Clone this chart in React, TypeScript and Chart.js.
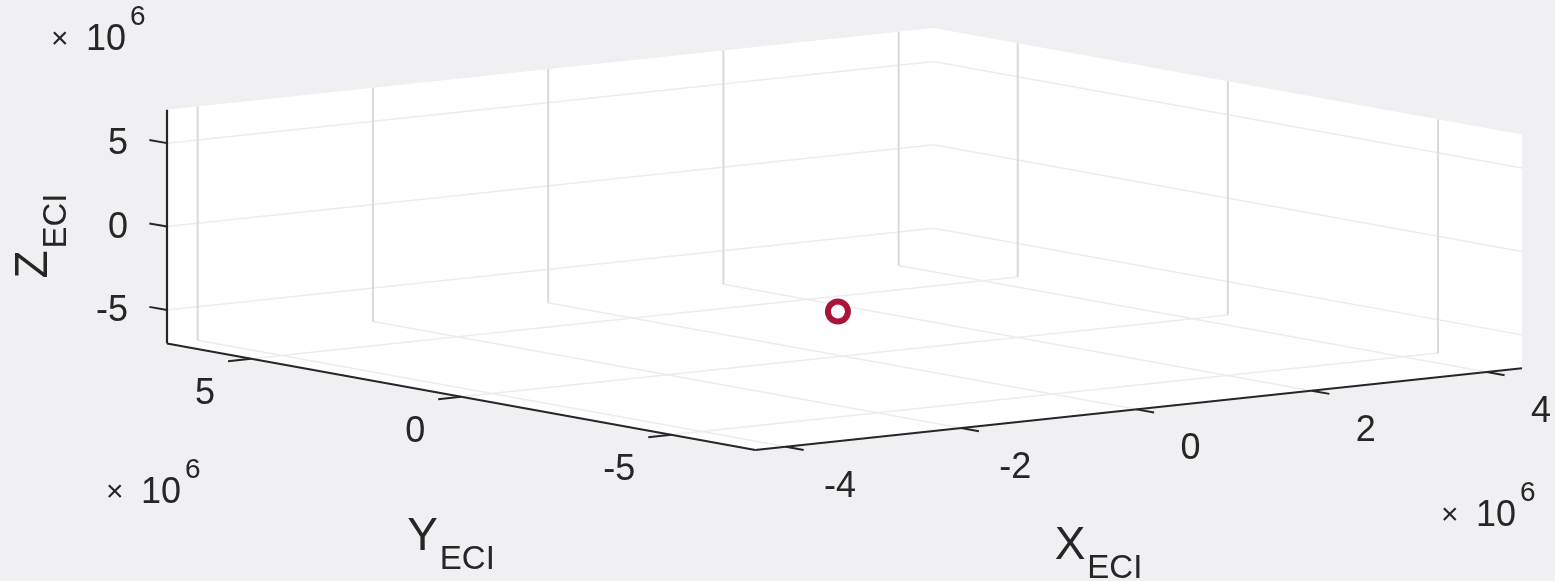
import React, { useEffect, useRef } from "react";
import { Chart, registerables } from "chart.js";

Chart.register(...registerables);

// ---------------- data ----------------
const X_LIMITS = [-4.35e6, 4.4e6];
const Y_LIMITS = [-7e6, 7e6];
const Z_LIMITS = [-7e6, 7e6];
const X_TICKS = [-4e6, -2e6, 0, 2e6, 4e6];
const Y_TICKS = [-5e6, 0, 5e6];
const Z_TICKS = [-5e6, 0, 5e6];
const TICK_EXPONENT = 6;
const SAT_X = [-0.05e6];
const SAT_Y = [0];
const SAT_Z = [-4.3e6];
const AXIS_NAMES = ["X", "Y", "Z"];
const AXIS_SUBSCRIPT = "ECI";

// ---------------- view / style ----------------
const VIEW_AZ = -37.5;
const VIEW_EL = 8;
const BOX_ASPECT = [1, 1, 0.2446];
const TICK_LEN = 0.03;
const FONT = '"Liberation Sans", Arial, Helvetica, sans-serif';
const TEXT_COLOR = "#262626";
const AXIS_COLOR = "#262626";
const GRID_COLOR_VERTICAL = "#d9d9d9";
const GRID_COLOR_FLAT = "#ececec";
const BG_COLOR = "#f0eff1";
const MARKER_COLOR = "#a8143a";

const W = 1555;
const H = 581;

const AZ = (VIEW_AZ * Math.PI) / 180;
const EL = (VIEW_EL * Math.PI) / 180;

function norm(v: number, lim: number[], a: number) {
  return ((v - lim[0]) / (lim[1] - lim[0]) - 0.5) * a;
}
function projN(nx: number, ny: number, nz: number) {
  const c = Math.cos(AZ), s = Math.sin(AZ), ce = Math.cos(EL), se = Math.sin(EL);
  return { x: nx * c + ny * s, y: -nx * s * se + ny * c * se + nz * ce };
}
function toN(x: number, y: number, z: number) {
  return [norm(x, X_LIMITS, BOX_ASPECT[0]), norm(y, Y_LIMITS, BOX_ASPECT[1]), norm(z, Z_LIMITS, BOX_ASPECT[2])];
}
function project(x: number, y: number, z: number) {
  const n = toN(x, y, z);
  return projN(n[0], n[1], n[2]);
}
function projectOffset(x: number, y: number, z: number, d: number[]) {
  const n = toN(x, y, z);
  return projN(n[0] + d[0], n[1] + d[1], n[2] + d[2]);
}

const [XMIN, XMAX] = X_LIMITS;
const [YMIN, YMAX] = Y_LIMITS;
const [ZMIN, ZMAX] = Z_LIMITS;

function lineDs(points: { x: number; y: number }[], color: string, width: number, order: number, extra: any = {}) {
  return {
    data: points,
    borderColor: color,
    borderWidth: width,
    pointRadius: 0,
    pointHoverRadius: 0,
    tension: 0,
    fill: false,
    clip: false as any,
    order,
    ...extra,
  };
}

function buildDatasets() {
  const ds: any[] = [];
  // back walls + floor (white panes)
  const walls = [
    project(XMIN, YMAX, ZMAX),
    project(XMAX, YMAX, ZMAX),
    project(XMAX, YMIN, ZMAX),
    project(XMAX, YMIN, ZMIN),
    project(XMIN, YMIN, ZMIN),
    project(XMIN, YMAX, ZMIN),
    project(XMIN, YMAX, ZMAX),
  ];
  ds.push(lineDs(walls, "rgba(0,0,0,0)", 0, 20, { fill: "shape", backgroundColor: "#ffffff" }));

  // grid lines
  const seg = (a: number[], b: number[]) => [project(a[0], a[1], a[2]), project(b[0], b[1], b[2])];
  const vertical: { x: number; y: number }[][] = [];
  const flat: { x: number; y: number }[][] = [];
  X_TICKS.forEach((t) => {
    vertical.push(seg([t, YMAX, ZMIN], [t, YMAX, ZMAX]));
    flat.push(seg([t, YMIN, ZMIN], [t, YMAX, ZMIN]));
  });
  Y_TICKS.forEach((t) => {
    vertical.push(seg([XMAX, t, ZMIN], [XMAX, t, ZMAX]));
    flat.push(seg([XMIN, t, ZMIN], [XMAX, t, ZMIN]));
  });
  Z_TICKS.forEach((t) => {
    flat.push(seg([XMIN, YMAX, t], [XMAX, YMAX, t]));
    flat.push(seg([XMAX, YMIN, t], [XMAX, YMAX, t]));
  });
  flat.forEach((g) => ds.push(lineDs(g, GRID_COLOR_FLAT, 1.5, 11)));
  vertical.forEach((g) => ds.push(lineDs(g, GRID_COLOR_VERTICAL, 2, 10)));

  // axis lines
  ds.push(lineDs(seg([XMIN, YMAX, ZMIN], [XMIN, YMAX, ZMAX]), AXIS_COLOR, 2.2, 5));
  ds.push(lineDs(seg([XMIN, YMIN, ZMIN], [XMIN, YMAX, ZMIN]), AXIS_COLOR, 2.2, 5));
  ds.push(lineDs(seg([XMIN, YMIN, ZMIN], [XMAX, YMIN, ZMIN]), AXIS_COLOR, 2.2, 5));

  // tick marks
  Z_TICKS.forEach((t) =>
    ds.push(lineDs([project(XMIN, YMAX, t), projectOffset(XMIN, YMAX, t, [0, TICK_LEN, 0])], AXIS_COLOR, 2, 5))
  );
  Y_TICKS.forEach((t) =>
    ds.push(lineDs([project(XMIN, t, ZMIN), projectOffset(XMIN, t, ZMIN, [-TICK_LEN, 0, 0])], AXIS_COLOR, 2, 5))
  );
  X_TICKS.forEach((t) =>
    ds.push(lineDs([project(t, YMIN, ZMIN), projectOffset(t, YMIN, ZMIN, [0, -TICK_LEN, 0])], AXIS_COLOR, 2, 5))
  );

  // satellite marker
  ds.push({
    data: SAT_X.map((x, i) => project(x, SAT_Y[i], SAT_Z[i])),
    showLine: false,
    pointStyle: "circle",
    pointRadius: 10,
    pointHoverRadius: 10,
    pointBorderWidth: 6,
    pointBorderColor: MARKER_COLOR,
    pointBackgroundColor: "rgba(0,0,0,0)",
    borderColor: MARKER_COLOR,
    backgroundColor: "rgba(0,0,0,0)",
    clip: false,
    order: 0,
  });
  return ds;
}

function bounds() {
  const us: number[] = [], vs: number[] = [];
  [XMIN, XMAX].forEach((x) =>
    [YMIN, YMAX].forEach((y) =>
      [ZMIN, ZMAX].forEach((z) => {
        const p = project(x, y, z);
        us.push(p.x);
        vs.push(p.y);
      })
    )
  );
  return { umin: Math.min(...us), umax: Math.max(...us), vmin: Math.min(...vs), vmax: Math.max(...vs) };
}

const fmt = (v: number) => String(Math.round((v / Math.pow(10, TICK_EXPONENT)) * 100) / 100);

const labelPlugin = {
  id: "labels3d",
  afterDatasetsDraw(chart: any) {
    const ctx = chart.ctx as CanvasRenderingContext2D;
    const sx = chart.scales.x, sy = chart.scales.y;
    const px = (p: { x: number; y: number }) => ({ x: sx.getPixelForValue(p.x), y: sy.getPixelForValue(p.y) });
    ctx.save();
    ctx.fillStyle = TEXT_COLOR;
    ctx.font = `36px ${FONT}`;
    ctx.textBaseline = "middle";

    // Z tick labels
    ctx.textAlign = "right";
    Z_TICKS.forEach((t) => {
      const p = px(project(XMIN, YMAX, t));
      ctx.fillText(fmt(t), p.x - 39, p.y + 1);
    });
    // Y tick labels
    Y_TICKS.forEach((t) => {
      const p = px(project(XMIN, t, ZMIN));
      ctx.fillText(fmt(t), p.x - 36, p.y + 35);
    });
    // X tick labels
    ctx.textAlign = "center";
    X_TICKS.forEach((t) => {
      const p = px(project(t, YMIN, ZMIN));
      ctx.fillText(fmt(t), p.x + 54, p.y + 40);
    });

    // exponent labels
    const expo = (x: number, y: number) => {
      ctx.textAlign = "left";
      ctx.textBaseline = "alphabetic";
      ctx.font = `30px ${FONT}`;
      ctx.fillText("\u00d7", x - 2, y - 2);
      ctx.font = `36px ${FONT}`;
      ctx.fillText("10", x + 33, y);
      ctx.font = `28px ${FONT}`;
      ctx.fillText(String(TICK_EXPONENT), x + 77, y - 25);
    };
    const zTop = px(project(XMIN, YMAX, ZMAX));
    expo(zTop.x - 114, zTop.y - 60);
    const yStart = px(project(XMIN, YMAX, ZMIN));
    expo(yStart.x - 59, yStart.y + 160);
    const xEnd = px(project(XMAX, YMIN, ZMIN));
    expo(xEnd.x - 79, xEnd.y + 158);

    // axis titles
    const title = (name: string, x: number, y: number) => {
      ctx.textAlign = "left";
      ctx.textBaseline = "alphabetic";
      ctx.font = `46px ${FONT}`;
      ctx.fillText(name, x, y);
      const w = ctx.measureText(name).width;
      ctx.font = `33px ${FONT}`;
      ctx.fillText(AXIS_SUBSCRIPT, x + w + 2, y + 19);
    };
    const yMid = px(project(XMIN, (YMIN + YMAX) / 2, ZMIN));
    title(AXIS_NAMES[1], yMid.x - 54, yMid.y + 153);
    const xMid = px(project((XMIN + XMAX) / 2, YMIN, ZMIN));
    title(AXIS_NAMES[0], xMid.x - 84, xMid.y + 150);
    const zMid = px(project(XMIN, YMAX, (ZMIN + ZMAX) / 2));
    ctx.save();
    ctx.translate(zMid.x - 120, zMid.y + 52);
    ctx.rotate(-Math.PI / 2);
    title(AXIS_NAMES[2], 0, 0);
    ctx.restore();

    ctx.restore();
  },
};

export default function App() {
  const ref = useRef<HTMLCanvasElement | null>(null);
  useEffect(() => {
    if (!ref.current) return;
    const b = bounds();
    const chart = new Chart(ref.current, {
      type: "line",
      data: { datasets: buildDatasets() },
      options: {
        responsive: false,
        animation: false,
        devicePixelRatio: 1,
        events: [],
        layout: { padding: { left: 167, right: 33, top: 28, bottom: 131 } },
        scales: {
          x: { type: "linear", display: false, min: b.umin, max: b.umax },
          y: { type: "linear", display: false, min: b.vmin, max: b.vmax },
        },
        plugins: {
          legend: { display: false },
          tooltip: { enabled: false },
          title: { display: false },
        },
      },
      plugins: [labelPlugin],
    } as any);
    return () => chart.destroy();
  }, []);
  return (
    <div style={{ position: "absolute", left: 0, top: 0, width: W, height: H, background: BG_COLOR }}>
      <canvas ref={ref} width={W} height={H} style={{ display: "block" }} />
    </div>
  );
}
